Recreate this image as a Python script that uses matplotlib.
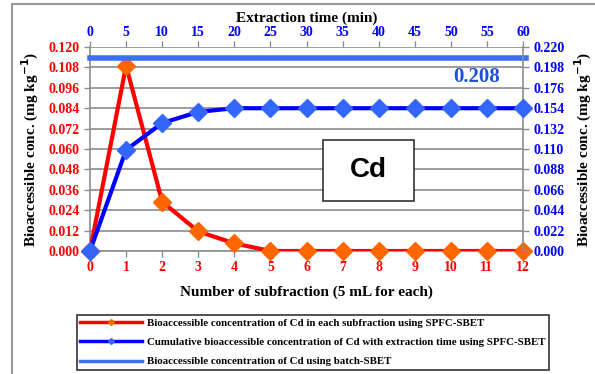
import matplotlib.pyplot as plt
from matplotlib.lines import Line2D
from matplotlib.patches import Rectangle

# ── Data ────────────────────────────────────────────────────────────────
subfraction = [0, 1, 2, 3, 4, 5, 6, 7, 8, 9, 10, 11, 12]
conc_each = [0.0, 0.109, 0.029, 0.0115, 0.0045, 0.0, 0.0, 0.0, 0.0, 0.0, 0.0, 0.0, 0.0]
conc_cumul = [0.0, 0.109, 0.138, 0.150, 0.154, 0.154, 0.154, 0.154, 0.154, 0.154, 0.154, 0.154, 0.154]
batch_value = 0.208
time_ticks = [0, 5, 10, 15, 20, 25, 30, 35, 40, 45, 50, 55, 60]
left_ticks = [0.000, 0.012, 0.024, 0.036, 0.048, 0.060, 0.072, 0.084, 0.096, 0.108, 0.120]
right_ticks = [0.000, 0.022, 0.044, 0.066, 0.088, 0.110, 0.132, 0.154, 0.176, 0.198, 0.220]

legend_labels = [
    'Bioaccessible concentration of Cd in each subfraction using SPFC-SBET',
    'Cumulative bioaccessible concentration of Cd with extraction time using SPFC-SBET',
    'Bioaccessible concentration of Cd using batch-SBET',
]

RED = '#FF0000'
ORANGE = '#FF6600'
BLUE = '#0000FF'
LBLUE = '#3366FF'
BATCH = '#3D6FF5'
GRID = '#8C8C8C'
SERIF = 'Liberation Serif'
TICK_FS = 10

W, H = 595, 374
fig = plt.figure(figsize=(W / 100, H / 100), dpi=100)

# outer frame (left and top edges)
fig.add_artist(Line2D([12 / W, 12 / W], [0, 1 - 4 / H], color='#999999', lw=1.5,
                      transform=fig.transFigure))
fig.add_artist(Line2D([12 / W, 1], [1 - 4 / H, 1 - 4 / H], color='#999999', lw=1.5,
                      transform=fig.transFigure))

x0, x1, y0, y1 = 90, 523, 251, 47
ax = fig.add_axes([x0 / W, 1 - y0 / H, (x1 - x0) / W, (y0 - y1) / H])
ax.set_facecolor('none')


def style_labels(labels, color):
    for lab in labels:
        lab.set_color(color)
        lab.set_fontweight('bold')
        lab.set_fontfamily(SERIF)
        lab.set_fontsize(TICK_FS)


# per-subfraction concentration (left axis)
ax.plot(subfraction, conc_each, '-', color=RED, lw=3, zorder=4)
ax.plot(subfraction, conc_each, 'D', color=ORANGE, markersize=9, zorder=5, clip_on=False)
ax.set_xlim(0, 12)
ax.set_ylim(0, 0.120)
ax.set_xticks(subfraction)
ax.set_yticks(left_ticks)
ax.set_yticklabels([f'{v:.3f}' for v in left_ticks])
ax.grid(axis='y', color=GRID, lw=1.2)
ax.set_axisbelow(True)
for s in ['top', 'right']:
    ax.spines[s].set_visible(False)
for s in ['left', 'bottom']:
    ax.spines[s].set_color(GRID)
    ax.spines[s].set_linewidth(1.2)
ax.tick_params(axis='both', colors=GRID, length=4, width=1)
style_labels(ax.get_xticklabels() + ax.get_yticklabels(), RED)
ax.set_xlabel('Number of subfraction (5 mL for each)', fontfamily=SERIF,
              fontweight='bold', fontsize=11, labelpad=8)
ax.set_ylabel('Bioaccessible conc. (mg kg$^{\\mathbf{-1}}$)', fontfamily=SERIF,
              fontweight='bold', fontsize=11, labelpad=5)

# cumulative concentration and batch value (right axis)
ax2 = ax.twinx()
ax2.axhline(batch_value, color=BATCH, lw=4, zorder=2, xmax=1.007, clip_on=False)
ax2.plot(subfraction, conc_cumul, '-', color=BLUE, lw=3, zorder=3)
ax2.plot(subfraction, conc_cumul, 'D', color=LBLUE, markersize=9, zorder=4, clip_on=False)
ax2.set_ylim(0, 0.220)
ax2.set_yticks(right_ticks)
ax2.set_yticklabels([f'{v:.3f}' for v in right_ticks])
for s in ['top', 'left', 'bottom']:
    ax2.spines[s].set_visible(False)
ax2.spines['right'].set_color(GRID)
ax2.spines['right'].set_linewidth(1.2)
ax2.tick_params(axis='y', colors=GRID, length=4, width=1)
style_labels(ax2.get_yticklabels(), BLUE)
ax2.set_ylabel('Bioaccessible conc. (mg kg$^{\\mathbf{-1}}$)', fontfamily=SERIF,
               fontweight='bold', fontsize=11, labelpad=6)
ax2.text(10.72, 0.188, f'{batch_value:.3f}', color='#1F4FE0',
         fontfamily=SERIF, fontweight='bold', fontsize=15, ha='center', va='center')

# extraction time on top
ax3 = ax.secondary_xaxis('top', functions=(lambda x: x * 5, lambda t: t / 5))
ax3.set_xticks(time_ticks)
ax3.spines['top'].set_visible(False)
ax3.tick_params(axis='x', colors=GRID, length=4, width=1, pad=1.5)
style_labels(ax3.get_xticklabels(), BLUE)
ax3.set_xlabel('Extraction time (min)', fontfamily=SERIF, fontweight='bold',
               fontsize=11, labelpad=3)

# element label box
fig.add_artist(Rectangle((323 / W, 1 - 201 / H), 91 / W, 61 / H, transform=fig.transFigure,
                         facecolor='white', edgecolor='#333333', lw=1.2, zorder=10))
fig.text(368.5 / W, 1 - 170.5 / H, 'Cd', fontfamily='Liberation Sans', fontweight='bold',
         fontsize=20, ha='center', va='center', zorder=11)

# legend
handles = [
    Line2D([], [], color=RED, lw=2.5, marker='D', markersize=3, markerfacecolor=ORANGE,
           markeredgecolor=ORANGE, markevery=[1]),
    Line2D([], [], color=BLUE, lw=2.5, marker='D', markersize=3, markerfacecolor=LBLUE,
           markeredgecolor=LBLUE, markevery=[1]),
    Line2D([], [], color=BATCH, lw=2.5),
]
leg = fig.legend(handles, legend_labels, loc='upper left',
                 bbox_to_anchor=(77 / W, 1 - 315 / H), ncol=1, frameon=True,
                 fancybox=False, handlelength=5.7, handletextpad=0.5,
                 borderpad=0.3, labelspacing=0.9, borderaxespad=0,
                 prop={'family': SERIF, 'weight': 'bold', 'size': 7.8})
leg.get_frame().set_edgecolor('black')
leg.get_frame().set_linewidth(1.2)

fig.savefig('out.png', dpi=100)
